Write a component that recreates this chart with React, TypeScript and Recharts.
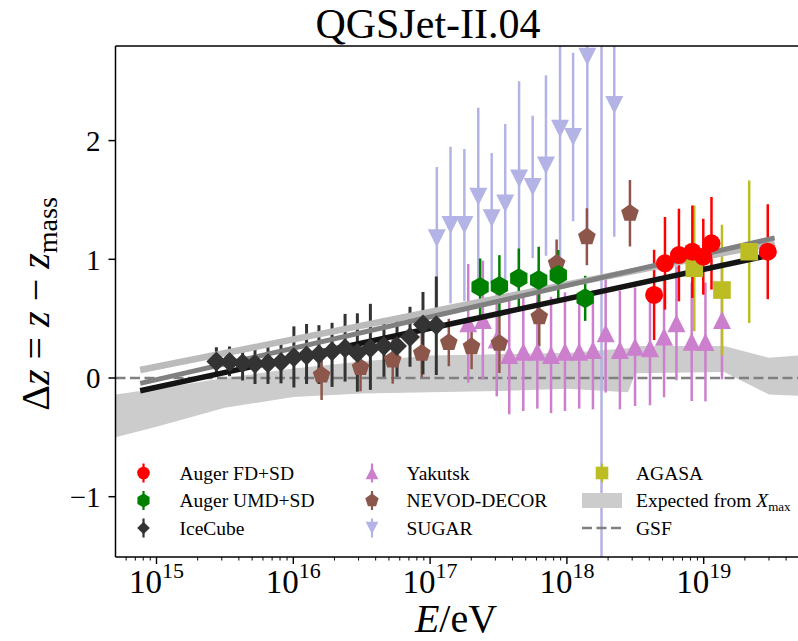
import React from "react";
import {
  Area,
  ComposedChart,
  ErrorBar,
  ReferenceLine,
  Scatter,
  XAxis,
  YAxis,
} from "recharts";

const W = 798;
const H = 641;
const FONT = "'Liberation Serif', 'DejaVu Serif', serif";

const RED = "#ff0000";
const GREEN = "#008000";
const ICE = "#333333";
const YAK = "#cc7fcc";
const NEVOD = "#8c564b";
const SUGAR = "#b3b3e5";
const AGASA = "#bcbd22";
const BAND = "#cccccc";
const GSF = "#808080";

const X_MIN = 5.015e14;
const X_MAX = 4.89e19;
const Y_MIN = -1.508;
const Y_MAX = 2.797;

// plot frame, used only to clip the error bars
const PLOT = { left: 115.5, top: 46, width: 682.5, height: 511 };

// Auger FD+SD
const augerFdE = [4.34e18, 5.21e18, 6.59e18, 8.26e18, 9.93e18, 1.14e19, 2.94e19];
const augerFdDz = [0.7, 0.966, 1.036, 1.064, 1.022, 1.135, 1.064];
const augerFdErr = [0.38, 0.39, 0.39, 0.39, 0.32, 0.39, 0.4];

// Auger UMD+SD
const augerUmdE = [2.32e17, 3.21e17, 4.45e17, 6.22e17, 8.65e17, 1.36e18];
const augerUmdDz = [0.767, 0.775, 0.84, 0.826, 0.868, 0.671];
const augerUmdErr = [0.24, 0.26, 0.25, 0.28, 0.21, 0.19];

// IceCube (asymmetric errors)
const iceE = [
  2.74e15, 3.42e15, 4.26e15, 5.25e15, 6.53e15, 8.13e15, 1.01e16, 1.25e16, 1.54e16,
  1.92e16, 2.39e16, 2.94e16, 3.66e16, 4.6e16, 5.73e16, 7.13e16, 8.87e16, 1.11e17,
];
const iceDz = [
  0.14, 0.135, 0.125, 0.12, 0.125, 0.135, 0.175, 0.19, 0.2, 0.225, 0.25, 0.21, 0.25,
  0.27, 0.27, 0.345, 0.45, 0.445,
];
const iceErrLo = [
  0.105, 0.12, 0.145, 0.17, 0.175, 0.18, 0.255, 0.24, 0.25, 0.3, 0.28, 0.325, 0.35,
  0.26, 0.26, 0.25, 0.42, 0.42,
];
const iceErrHi = [
  0.12, 0.13, 0.135, 0.14, 0.16, 0.165, 0.26, 0.265, 0.245, 0.24, 0.29, 0.335, 0.375,
  0.235, 0.25, 0.255, 0.275, 0.41,
];

// Yakutsk
const yakE = [
  1.9e17, 2.43e17, 3.07e17, 3.79e17, 4.8e17, 6.08e17, 7.66e17, 9.68e17, 1.23e18,
  1.55e18, 1.92e18, 2.44e18, 3.15e18, 4.05e18, 5.13e18, 6.32e18, 8.17e18, 1.03e19,
  1.36e19,
];
const yakDz = [
  0.461, 0.489, 0.325, 0.194, 0.222, 0.222, 0.194, 0.222, 0.222, 0.236, 0.377, 0.236,
  0.264, 0.25, 0.348, 0.461, 0.306, 0.303, 0.489,
];
const yakErr = [
  0.5, 0.5, 0.48, 0.5, 0.5, 0.48, 0.49, 0.5, 0.48, 0.5, 0.5, 0.5, 0.5, 0.48, 0.51,
  0.48, 0.5, 0.5, 0.5,
];

// NEVOD-DECOR
const nevodE = [
  1.61e16, 3.1e16, 5.33e16, 8.69e16, 1.37e17, 2.01e17, 3.21e17, 6.28e17, 8.41e17,
  1.4e18, 2.89e18,
];
const nevodDz = [0.025, 0.088, 0.152, 0.208, 0.299, 0.264, 0.292, 0.516, 0.966, 1.19, 1.388];
const nevodErr = [0.21, 0.2, 0.2, 0.2, 0.2, 0.19, 0.25, 0.25, 0.2, 0.24, 0.28];

// SUGAR
const sugarE = [
  1.12e17, 1.41e17, 1.78e17, 2.25e17, 2.82e17, 3.54e17, 4.47e17, 5.62e17, 7.03e17,
  8.91e17, 1.11e18, 1.41e18, 1.79e18, 2.22e18,
];
const sugarDz = [
  1.177, 1.289, 1.289, 1.527, 1.345, 1.47, 1.68, 1.61, 1.79, 2.1, 2.03, 2.707, 3.3, 2.3,
];
const sugarErr = [0.6, 0.66, 0.64, 0.75, 0.55, 0.67, 0.82, 0.6, 0.76, 1.08, 0.71, 1.52, 6, 1.11];

// AGASA
const agasaE = [8.53e18, 1.36e19, 2.15e19];
const agasaDz = [0.924, 0.741, 1.064];
const agasaErr = [0.53, 0.55, 0.6];

// expected from Xmax (band)
const bandE = [
  5.015e14, 1e15, 3.16e15, 1e16, 3.16e16, 1e17, 3.16e17, 1e18, 2.8e18, 3.16e18,
  1.41e19, 3.0e19, 4.89e19,
];
const bandLo = [-0.5, -0.41, -0.25, -0.16, -0.13, -0.12, -0.11, -0.09, -0.12, 0.04, 0.05, -0.14, -0.15];
const bandHi = [-0.14, -0.09, 0.0, 0.08, 0.14, 0.19, 0.2, 0.21, 0.25, 0.27, 0.27, 0.17, 0.19];

// fit lines
const fitE = [7.6e14, 3.3e19];
const fitLight = [0.067, 1.139];
const fitMid = [-0.045, 1.18];
const fitBlack = [-0.107, 1.044];

const rows = (e: number[], dz: number[], lo: number[], hi: number[] = lo) =>
  e.map((E, i) => ({ E, dz: dz[i], err: [lo[i], hi[i]] }));

const augerFdRows = rows(augerFdE, augerFdDz, augerFdErr);
const augerUmdRows = rows(augerUmdE, augerUmdDz, augerUmdErr);
const iceRows = rows(iceE, iceDz, iceErrLo, iceErrHi);
const yakRows = rows(yakE, yakDz, yakErr);
const nevodRows = rows(nevodE, nevodDz, nevodErr);
const sugarRows = rows(sugarE, sugarDz, sugarErr);
const agasaRows = rows(agasaE, agasaDz, agasaErr);
const bandRows = bandE.map((E, i) => ({ E, band: [bandLo[i], bandHi[i]] }));
const lineRows = (v: number[]) => fitE.map((E, i) => ({ E, dz: v[i] }));

const xTicks: number[] = [];
for (let d = 14; d <= 19; d++) {
  for (let m = 1; m <= 9; m++) {
    const v = m * Math.pow(10, d);
    if (v >= X_MIN && v <= X_MAX) xTicks.push(v);
  }
}

type Kind = "circle" | "hexagon" | "diamond" | "up" | "down" | "pentagon" | "square";

function polyPoints(kind: Kind, r: number): number[][] {
  const ngon = (n: number) =>
    Array.from({ length: n }, (_, k) => {
      const a = Math.PI / 2 + (k * 2 * Math.PI) / n;
      return [r * Math.cos(a), -r * Math.sin(a)];
    });
  switch (kind) {
    case "hexagon":
      return ngon(6);
    case "pentagon":
      return ngon(5);
    case "diamond":
      return [[0, -r], [r, 0], [0, r], [-r, 0]];
    case "up":
      return [[0, -r], [r, r], [-r, r]];
    case "down":
      return [[0, r], [r, -r], [-r, -r]];
    default:
      return [[-r, -r], [r, -r], [r, r], [-r, r]];
  }
}

function Marker({ kind, cx, cy, r, color }: { kind: Kind; cx: number; cy: number; r: number; color: string }) {
  if (kind === "circle") return <circle cx={cx} cy={cy} r={r} fill={color} />;
  const pts = polyPoints(kind, r)
    .map(([x, y]) => `${cx + x},${cy + y}`)
    .join(" ");
  return <polygon points={pts} fill={color} />;
}

const shape = (kind: Kind, r: number, color: string) => (p: any) => (
  <Marker kind={kind} cx={p.cx} cy={p.cy} r={r} color={color} />
);

function XTick(props: any) {
  const { x, y, payload } = props;
  const v = payload.value as number;
  const exp = Math.round(Math.log10(v));
  const major = Math.abs(v - Math.pow(10, exp)) / v < 1e-6;
  return (
    <g>
      <line x1={x} x2={x} y1={y} y2={y + (major ? 7 : 3.5)} stroke="#000" strokeWidth={major ? 1.4 : 1} />
      {major && (
        <text x={x} y={y + 36} textAnchor="middle" fontFamily={FONT} fontSize={33} fill="#000">
          10
          <tspan dy={-15} fontSize={22}>
            {exp}
          </tspan>
        </text>
      )}
    </g>
  );
}

const legendCols: { label: React.ReactNode; kind: Kind | "band" | "dash"; color: string }[][] = [
  [
    { label: "Auger FD+SD", kind: "circle", color: RED },
    { label: "Auger UMD+SD", kind: "hexagon", color: GREEN },
    { label: "IceCube", kind: "diamond", color: ICE },
  ],
  [
    { label: "Yakutsk", kind: "up", color: YAK },
    { label: "NEVOD-DECOR", kind: "pentagon", color: NEVOD },
    { label: "SUGAR", kind: "down", color: SUGAR },
  ],
  [
    { label: "AGASA", kind: "square", color: AGASA },
    {
      label: (
        <>
          Expected from <tspan fontStyle="italic">X</tspan>
          <tspan fontSize={13} dy={4}>
            max
          </tspan>
        </>
      ),
      kind: "band",
      color: BAND,
    },
    { label: "GSF", kind: "dash", color: GSF },
  ],
];
const legendMarkX = [143.5, 372, 602];
const legendTextX = [179.5, 406.5, 636];
const legendRowY = [473, 500.5, 528];

function ChartLegend() {
  return (
    <g fontFamily={FONT}>
      {legendCols.map((col, ci) =>
        col.map((item, ri) => {
          const mx = legendMarkX[ci];
          const my = legendRowY[ri];
          let mark: React.ReactNode;
          if (item.kind === "band") {
            mark = <rect x={mx - 20} y={my - 7.5} width={40} height={15} fill={item.color} />;
          } else if (item.kind === "dash") {
            mark = (
              <line x1={mx - 20} x2={mx + 20} y1={my} y2={my} stroke={item.color} strokeWidth={2.5} strokeDasharray="10 4.5" />
            );
          } else {
            const r = item.kind === "hexagon" || item.kind === "pentagon" ? 7 : 6.3;
            mark = (
              <g>
                <line x1={mx} x2={mx} y1={my - 9.5} y2={my + 9.5} stroke={item.color} strokeWidth={2.2} />
                <Marker kind={item.kind} cx={mx} cy={my} r={r} color={item.color} />
              </g>
            );
          }
          return (
            <g key={`${ci}-${ri}`}>
              {mark}
              <text x={legendTextX[ci]} y={my + 6.5} fontSize={19.5} fill="#000">
                {item.label}
              </text>
            </g>
          );
        })
      )}
    </g>
  );
}

export default function App() {
  const errBar = (color: string) => (
    <ErrorBar dataKey="err" direction="y" width={0} stroke={color} strokeWidth={2.5} />
  );
  return (
    <div style={{ position: "absolute", left: 0, top: 0, width: W, height: H, background: "#fff" }}>
      <style>{`.recharts-scatter, .recharts-errorBars, .recharts-errorBar { clip-path: url(#plotClip); }`}</style>
      <svg width={0} height={0} style={{ position: "absolute" }}>
        <defs>
          <clipPath id="plotClip">
            <rect x={PLOT.left} y={PLOT.top} width={PLOT.width} height={PLOT.height} />
          </clipPath>
        </defs>
      </svg>
      <ComposedChart
        width={W}
        height={H}
        data={bandRows}
        margin={{ top: 46, right: 0, bottom: 0, left: 0 }}
      >
        <XAxis
          dataKey="E"
          type="number"
          scale="log"
          domain={[X_MIN, X_MAX]}
          allowDataOverflow
          ticks={xTicks}
          interval={0}
          tickSize={0}
          tickMargin={0}
          tickLine={false}
          tick={(p: any) => <XTick {...p} />}
          axisLine={{ stroke: "#000", strokeWidth: 1.5 }}
          height={84}
        />
        <YAxis
          type="number"
          domain={[Y_MIN, Y_MAX]}
          allowDataOverflow
          ticks={[-1, 0, 1, 2]}
          width={115.5}
          tickSize={7}
          tickMargin={8}
          axisLine={{ stroke: "#000", strokeWidth: 1.5 }}
          tickLine={{ stroke: "#000", strokeWidth: 1.5 }}
          tick={{ fill: "#000", fontSize: 29, fontFamily: FONT }}
          tickFormatter={(v: number) => (v < 0 ? `\u2212${-v}` : String(v))}
        />
        <Area
          dataKey="band"
          type="linear"
          fill={BAND}
          fillOpacity={1}
          stroke="none"
          isAnimationActive={false}
        />
        <ReferenceLine y={0} stroke={GSF} strokeWidth={2.5} strokeDasharray="10 4.5" />
        <Scatter data={yakRows} dataKey="dz" shape={shape("up", 9, YAK)} isAnimationActive={false}>
          {errBar(YAK)}
        </Scatter>
        <Scatter data={sugarRows} dataKey="dz" shape={shape("down", 9, SUGAR)} isAnimationActive={false}>
          {errBar(SUGAR)}
        </Scatter>
        <Scatter
          data={lineRows(fitLight)}
          dataKey="dz"
          line={{ stroke: "#bbbbbb", strokeWidth: 6.5 }}
          shape={() => <g />}
          isAnimationActive={false}
        />
        <Scatter
          data={lineRows(fitMid)}
          dataKey="dz"
          line={{ stroke: "#808080", strokeWidth: 5 }}
          shape={() => <g />}
          isAnimationActive={false}
        />
        <Scatter
          data={lineRows(fitBlack)}
          dataKey="dz"
          line={{ stroke: "#141414", strokeWidth: 5.5 }}
          shape={() => <g />}
          isAnimationActive={false}
        />
        <Scatter data={nevodRows} dataKey="dz" shape={shape("pentagon", 9.3, NEVOD)} isAnimationActive={false}>
          {errBar(NEVOD)}
        </Scatter>
        <Scatter data={iceRows} dataKey="dz" shape={shape("diamond", 10, ICE)} isAnimationActive={false}>
          <ErrorBar dataKey="err" direction="y" width={0} stroke={ICE} strokeWidth={3} />
        </Scatter>
        <Scatter data={augerUmdRows} dataKey="dz" shape={shape("hexagon", 10, GREEN)} isAnimationActive={false}>
          {errBar(GREEN)}
        </Scatter>
        <Scatter data={agasaRows} dataKey="dz" shape={shape("square", 8.8, AGASA)} isAnimationActive={false}>
          {errBar(AGASA)}
        </Scatter>
        <Scatter data={augerFdRows} dataKey="dz" shape={shape("circle", 9, RED)} isAnimationActive={false}>
          {errBar(RED)}
        </Scatter>
        <ReferenceLine y={Y_MAX} stroke="#000" strokeWidth={1.5} />
      </ComposedChart>
      <svg
        width={W}
        height={H}
        style={{ position: "absolute", left: 0, top: 0, pointerEvents: "none" }}
        fontFamily={FONT}
      >
        <text x={428} y={37.5} fontSize={42} textAnchor="middle" fill="#000">
          QGSJet-II.04
        </text>
        <text transform="translate(49,304) rotate(-90)" fontSize={40} textAnchor="middle" fill="#000">
          {"\u0394"}
          <tspan fontStyle="italic">z</tspan>
          {" = "}
          <tspan fontStyle="italic">z</tspan>
          {" \u2212 "}
          <tspan fontStyle="italic">z</tspan>
          <tspan fontSize={28} dy={8}>
            mass
          </tspan>
        </text>
        <text x={456} y={632} fontSize={40} textAnchor="middle" fill="#000">
          <tspan fontStyle="italic">E</tspan>/eV
        </text>
        <ChartLegend />
      </svg>
    </div>
  );
}
